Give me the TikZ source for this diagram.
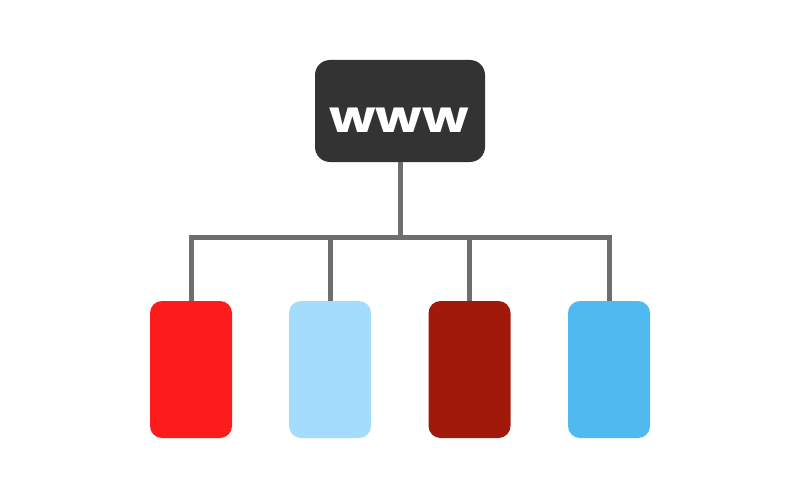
\documentclass[tikz,border=0pt]{standalone}
\usepackage{fontspec}
\newfontfamily\wwwfont{Poppins}
\definecolor{boxdark}{HTML}{333333}
\definecolor{linegray}{HTML}{6E6E6E}
\definecolor{cred}{HTML}{FD1C1C}
\definecolor{clight}{HTML}{A4DDFB}
\definecolor{cdark}{HTML}{A0190A}
\definecolor{cblue}{HTML}{4FB9F0}
\begin{document}
\begin{tikzpicture}[x=1pt,y=-1pt,
  page/.style={rounded corners=12pt, minimum width=82pt, minimum height=137pt, inner sep=0pt, draw=none},
  link/.style={draw=linegray, line width=5pt}]
\useasboundingbox[fill=white] (0,0) rectangle (800,500);
\node[fill=boxdark, rounded corners=15pt, minimum width=170pt, minimum height=102pt, inner sep=0pt] (www) at (400,111) {};
\node[text=white, font=\wwwfont\bfseries\fontsize{44}{44}\selectfont, anchor=base, xscale=1.22] (t) at (399,132) {www};
\node[page, fill=cred] (p1) at (191,369.5) {};
\node[page, fill=clight] (p2) at (330,369.5) {};
\node[page, fill=cdark] (p3) at (469.5,369.5) {};
\node[page, fill=cblue] (p4) at (609,369.5) {};
\coordinate (bar) at (400,237);
\draw[link] (www.south) -- (bar);
\draw[link, line join=miter] (p1.north) -- (p1.north |- bar) -- (p4.north |- bar) -- (p4.north);
\draw[link] (p2.north) -- (p2.north |- bar);
\draw[link] (p3.north) -- (p3.north |- bar);
\end{tikzpicture}
\end{document}
